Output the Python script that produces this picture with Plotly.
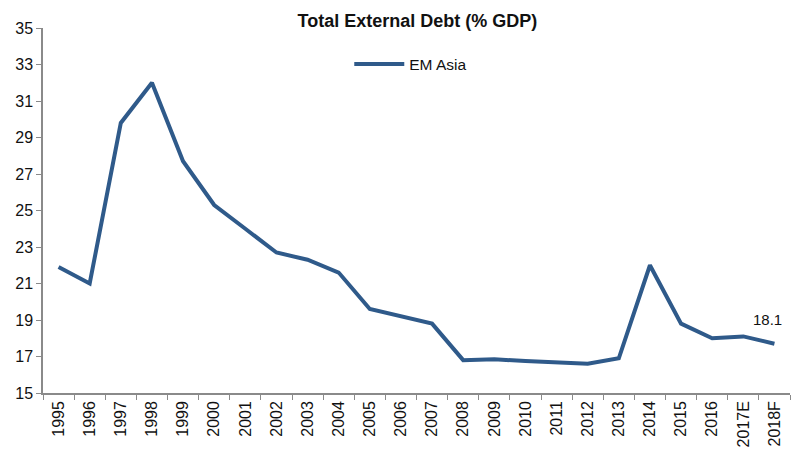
import plotly.graph_objects as go

years = ["1995", "1996", "1997", "1998", "1999", "2000", "2001", "2002", "2003", "2004",
         "2005", "2006", "2007", "2008", "2009", "2010", "2011", "2012", "2013", "2014",
         "2015", "2016", "2017E", "2018F"]
em_asia = [21.9, 21.0, 29.8, 32.0, 27.7, 25.3, 24.0, 22.7, 22.3, 21.6,
           19.6, 19.2, 18.8, 16.8, 16.85, 16.75, 16.7, 16.6, 16.9, 22.0,
           18.8, 18.0, 18.1, 17.7]
y_ticks = list(range(15, 36, 2))

FONT = "Liberation Sans Narrow, Arial Narrow, Liberation Sans, Arial, sans-serif"
LINE = "#2F5A8A"

fig = go.Figure()
fig.add_trace(go.Scatter(
    x=years, y=em_asia, mode="lines", name="EM Asia",
    line=dict(color=LINE, width=4),
))

fig.add_annotation(
    x="2017E", y=em_asia[years.index("2017E")], text="18.1",
    showarrow=False, xshift=24, yshift=17,
    font=dict(family=FONT, size=15, color="#111"),
)

fig.update_layout(
    width=792, height=452,
    margin=dict(l=43, r=2, t=28, b=59),
    paper_bgcolor="white", plot_bgcolor="white",
    title=dict(text="<b>Total External Debt (% GDP)</b>", x=0.527, xanchor="center",
               y=0.955, yanchor="middle",
               font=dict(family=FONT, size=18, color="#111")),
    showlegend=True,
    legend=dict(x=0.41, y=0.90, xanchor="left", yanchor="middle", itemwidth=50,
                bgcolor="rgba(0,0,0,0)", font=dict(family=FONT, size=15.5, color="#111")),
    font=dict(family=FONT, size=14, color="#111"),
)

fig.update_xaxes(
    type="category", tickangle=-90, tickson="boundaries", automargin=False,
    showline=True, linecolor="#8a8a8a", linewidth=1.5,
    ticks="outside", ticklen=5, tickcolor="#8a8a8a",
    showgrid=False, tickfont=dict(family=FONT, size=16, color="#111"),
    range=[-0.5, len(years) - 0.5],
)
fig.update_yaxes(
    range=[15, 35], tickvals=y_ticks, ticktext=[str(v) for v in y_ticks],
    showline=True, linecolor="#8a8a8a", linewidth=1.5, automargin=False,
    ticks="outside", ticklen=5, tickcolor="#8a8a8a",
    showgrid=False, zeroline=False,
    tickfont=dict(family=FONT, size=16, color="#111"),
)

fig.write_html("out.html")
